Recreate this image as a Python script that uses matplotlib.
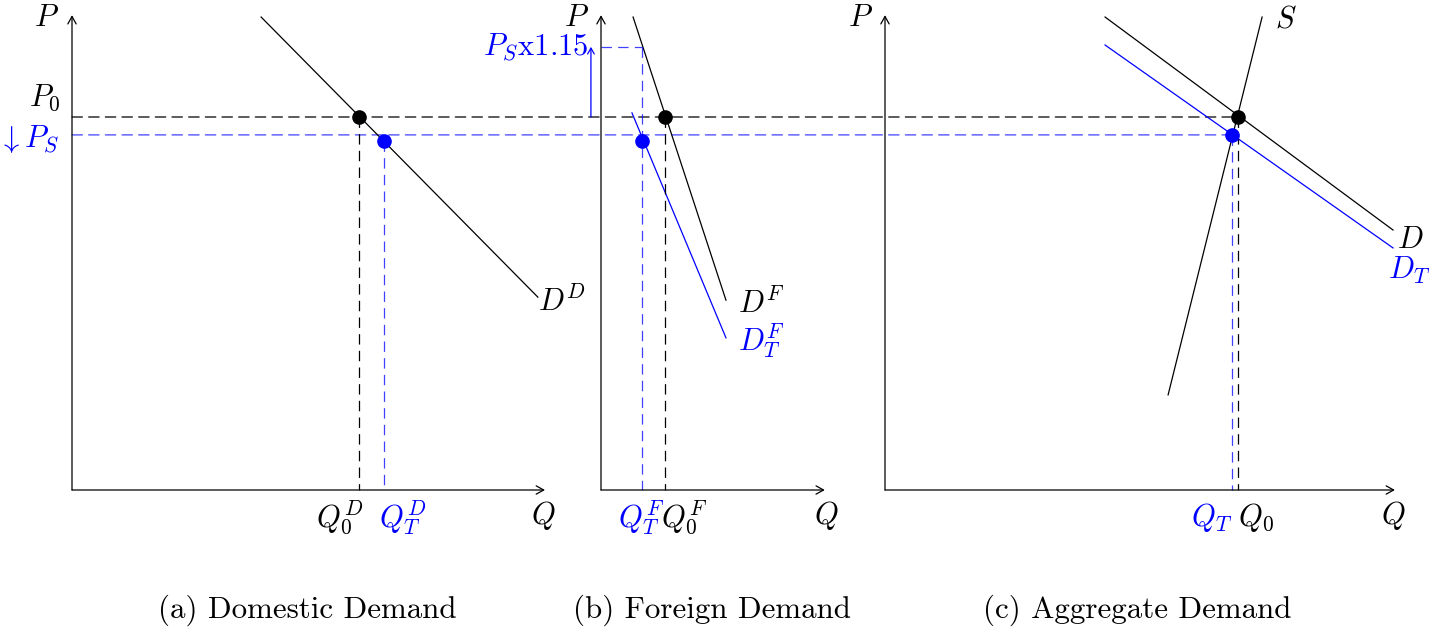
import matplotlib.pyplot as plt
from matplotlib.patches import ConnectionPatch

plt.rcParams['mathtext.fontset'] = 'cm'
plt.rcParams['font.family'] = 'cmr10'
plt.rcParams['axes.unicode_minus'] = False
plt.rcParams['lines.scale_dashes'] = False

# shared price levels
P_top = 12.73
P0 = 10.0
PS = 9.52
PS_up = 11.88      # P_S x1.15 in the foreign panel
P_taxdot = 9.36    # where the taxed curves are marked in (a) and (b)

# (a) domestic demand
dom_Qmax = 12.68
dom_D_q = [5.07, 12.49]
dom_D_p = [12.68, 5.17]
dom_Q0 = 7.69
dom_QT = 8.36

# (b) foreign demand
for_Qmax = 6.0
for_D_q = [0.86, 3.35]
for_D_p = [12.68, 5.09]
for_DT_q = [0.83, 3.35]
for_DT_p = [10.11, 4.08]
for_Q0 = 1.72
for_QT = 1.10

# (c) aggregate demand
agg_Qmax = 13.67
agg_D_q = [5.90, 13.62]
agg_D_p = [12.68, 6.97]
agg_DT_q = [5.90, 13.62]
agg_DT_p = [11.93, 6.49]
agg_S_q = [7.59, 10.11]
agg_S_p = [2.55, 12.68]
agg_Q0 = 9.46
agg_QT = 9.30

captions = ["(a) Domestic Demand", "(b) Foreign Demand", "(c) Aggregate Demand"]

W, H = 1431, 628
PX = 37.3          # pixels per unit
BASE = 490         # pixel row of the Q axes
BLUE = '#0000ff'
DASH = (0, (7.5, 4.5))
FS = 22

fig = plt.figure(figsize=(W / 100, H / 100), dpi=100)


def make_axes(x0, qmax):
    ax = fig.add_axes([x0 / W, (H - BASE) / H, qmax * PX / W, P_top * PX / H])
    ax.set_xlim(0, qmax)
    ax.set_ylim(0, P_top)
    ax.axis('off')
    arrow = dict(arrowstyle='->,head_length=0.45,head_width=0.25', lw=0.9,
                 color='black', mutation_scale=12, shrinkA=0, shrinkB=0)
    ax.annotate('', xy=(0, P_top), xytext=(0, 0), arrowprops=arrow,
                annotation_clip=False)
    ax.annotate('', xy=(qmax, 0), xytext=(0, 0), arrowprops=arrow,
                annotation_clip=False)
    return ax


def label(ax, s, xy, off, color='black', ha='center'):
    ax.annotate(s, xy=xy, xytext=off, textcoords='offset pixels',
                ha=ha, va='center', fontsize=FS, color=color,
                annotation_clip=False)


def line(ax, q, p, color='black', ls='-', lw=0.9, alpha=1.0):
    ax.plot(q, p, color=color, ls=ls, lw=lw, alpha=alpha,
            clip_on=False, zorder=2)


def dot(ax, q, p, color):
    ax.plot([q], [p], 'o', color=color, ms=9.5, clip_on=False, zorder=4)


axA = make_axes(72, dom_Qmax)
axB = make_axes(601, for_Qmax)
axC = make_axes(885, agg_Qmax)

# (a)
line(axA, dom_D_q, dom_D_p)
line(axA, [dom_Q0, dom_Q0], [P0, 0], ls=DASH)
line(axA, [dom_QT, dom_QT], [P_taxdot, 0], color=BLUE, ls=DASH, alpha=0.75)
dot(axA, dom_Q0, P0, 'black')
dot(axA, dom_QT, P_taxdot, BLUE)
label(axA, '$P$', (0, P_top), (-25, -3))
label(axA, '$P_0$', (0, P0), (-12, 19), ha='right')
label(axA, r'$\downarrow P_S$', (0, PS), (-13, -4), color=BLUE, ha='right')
label(axA, '$Q_0^D$', (dom_Q0, 0), (-19, -28))
label(axA, '$Q_T^D$', (dom_QT, 0), (19, -28), color=BLUE)
label(axA, '$Q$', (dom_Qmax, 0), (-2, -25))
label(axA, '$D^D$', (dom_D_q[1], dom_D_p[1]), (0, -4), ha='left')

# (b)
line(axB, for_D_q, for_D_p)
line(axB, for_DT_q, for_DT_p, color=BLUE)
line(axB, [for_Q0, for_Q0], [P0, 0], ls=DASH)
line(axB, [0, for_QT], [PS_up, PS_up], color=BLUE, ls=DASH, alpha=0.75)
line(axB, [for_QT, for_QT], [PS_up, 0], color=BLUE, ls=DASH, alpha=0.75)
dot(axB, for_Q0, P0, 'black')
dot(axB, for_QT, P_taxdot, BLUE)
axB.annotate('', xy=(-0.27, PS_up), xytext=(-0.27, P0),
             arrowprops=dict(arrowstyle='->,head_length=0.35,head_width=0.2',
                             lw=0.9, color=BLUE, mutation_scale=12,
                             shrinkA=0, shrinkB=0),
             annotation_clip=False)
label(axB, '$P$', (0, P_top), (-24, -3))
label(axB, '$P_S$x1.15', (0, PS_up), (-12, 0), color=BLUE, ha='right')
label(axB, '$Q_T^F$', (for_QT, 0), (-1, -28), color=BLUE)
label(axB, '$Q_0^F$', (for_Q0, 0), (19, -28))
label(axB, '$Q$', (for_Qmax, 0), (1, -25))
label(axB, '$D^F$', (for_D_q[1], for_D_p[1]), (12, -3), ha='left')
label(axB, '$D_T^F$', (for_DT_q[1], for_DT_p[1]), (12, -3), color=BLUE, ha='left')

# (c)
line(axC, agg_D_q, agg_D_p)
line(axC, agg_DT_q, agg_DT_p, color=BLUE)
line(axC, agg_S_q, agg_S_p)
line(axC, [agg_Q0, agg_Q0], [P0, 0], ls=DASH)
line(axC, [agg_QT, agg_QT], [PS, 0], color=BLUE, ls=DASH, alpha=0.75)
dot(axC, agg_Q0, P0, 'black')
dot(axC, agg_QT, PS, BLUE)
label(axC, '$P$', (0, P_top), (-24, -3))
label(axC, '$S$', (agg_S_q[1], agg_S_p[1]), (13, -3), ha='left')
label(axC, '$D$', (agg_D_q[1], agg_D_p[1]), (4, -10), ha='left')
label(axC, '$D_T$', (agg_DT_q[1], agg_DT_p[1]), (-5, -22), color=BLUE, ha='left')
label(axC, '$Q_T$', (agg_QT, 0), (-20, -28), color=BLUE)
label(axC, '$Q_0$', (agg_Q0, 0), (18, -28))
label(axC, '$Q$', (agg_Qmax, 0), (-2, -25))

# price lines running across all three panels
for p, q, col, a in [(P0, agg_Q0, 'black', 1.0), (PS, agg_QT, BLUE, 0.75)]:
    con = ConnectionPatch(xyA=(0, p), coordsA=axA.transData,
                          xyB=(q, p), coordsB=axC.transData,
                          color=col, lw=0.9, linestyle=DASH, alpha=a,
                          zorder=-1)
    fig.add_artist(con)

for cx, txt in zip([307, 712, 1137], captions):
    fig.text(cx / W, 1 - 610 / H, txt, ha='center', va='center', fontsize=22.3)

fig.savefig('out.png', dpi=100)
